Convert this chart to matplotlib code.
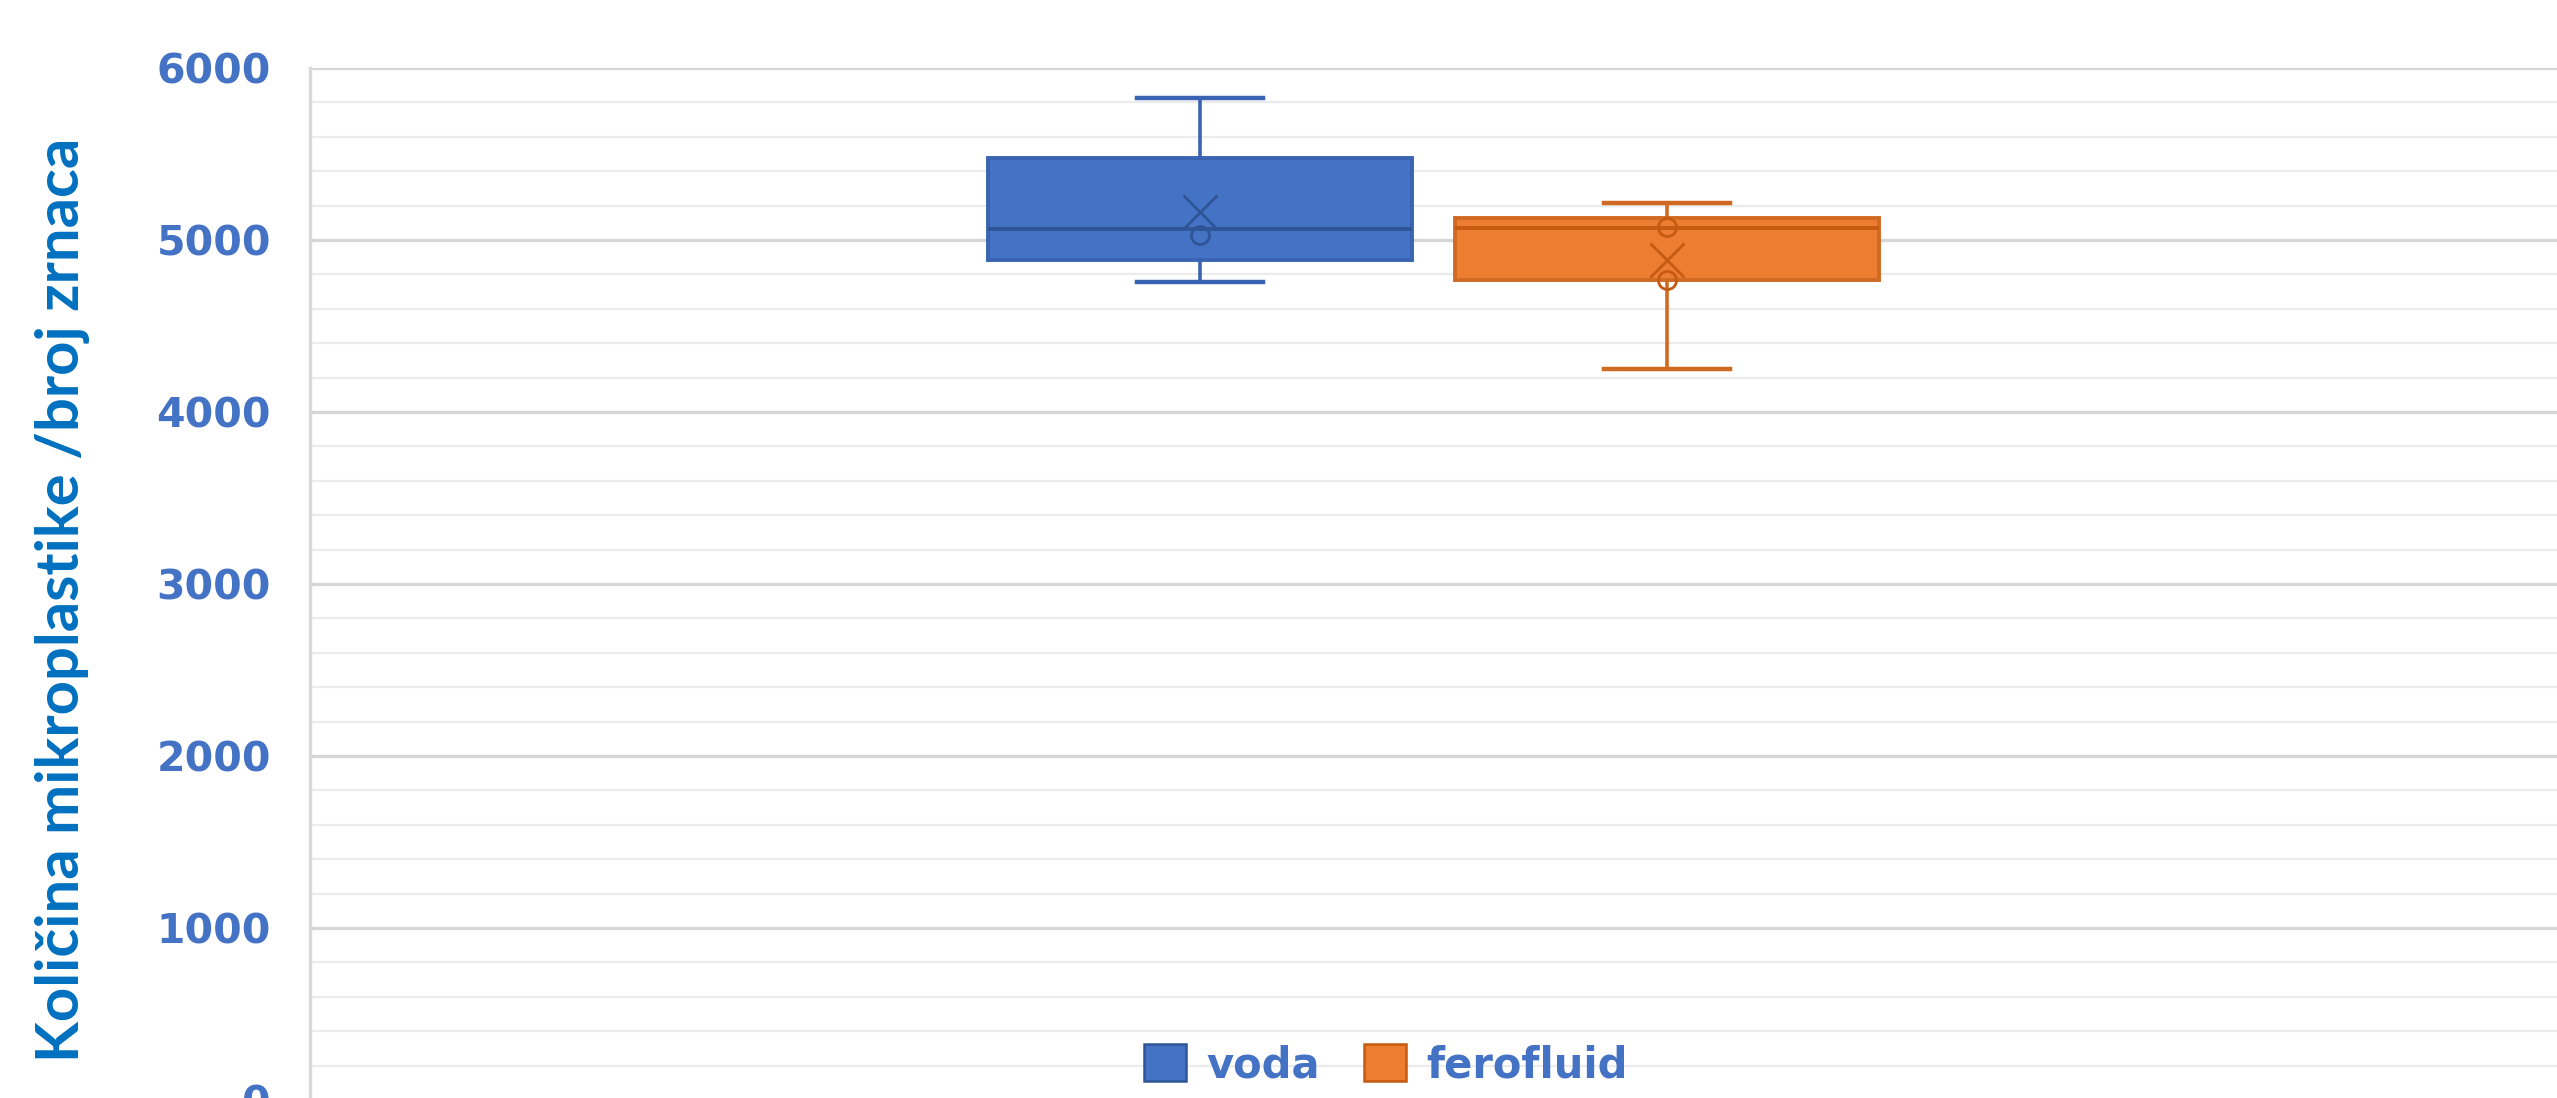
import matplotlib
matplotlib.use("Agg")
import matplotlib.pyplot as plt
from matplotlib.patches import Patch
from matplotlib.ticker import MultipleLocator

# box-and-whisker statistics per group
groups = ["voda", "ferofluid"]
whislo = [4755, 4250]
q1 = [4885, 4770]
med = [5065, 5070]
q3 = [5475, 5130]
whishi = [5825, 5215]
means = [5160, 4885]
inner_points = [[5030], [5075, 4770]]

fills = ["#4472C4", "#ED7D31"]
edges = ["#3A64B2", "#D06A22"]
darks = ["#2F5597", "#C55A11"]
tick_blue = "#4472C4"

fig = plt.figure(figsize=(25.57, 10.98), dpi=100)
ax = fig.add_axes([310 / 2557, -2 / 1098, 1 - 310 / 2557, 1032 / 1098])

positions = [1 - 0.104, 1 + 0.104]
for i, g in enumerate(groups):
    stats = [{
        "label": g, "whislo": whislo[i], "q1": q1[i], "med": med[i],
        "q3": q3[i], "whishi": whishi[i], "mean": means[i], "fliers": [],
    }]
    ax.bxp(stats, positions=[positions[i]], widths=0.1887, capwidths=0.056,
           patch_artist=True, showmeans=False, manage_ticks=False,
           boxprops=dict(facecolor=fills[i], edgecolor=edges[i], linewidth=2.8),
           medianprops=dict(color=darks[i], linewidth=2.8),
           whiskerprops=dict(color=edges[i], linewidth=2.6),
           capprops=dict(color=edges[i], linewidth=3.2), zorder=3)
    ax.plot(positions[i], means[i], marker="x", markersize=24,
            markeredgewidth=2.0, color=darks[i], zorder=4)
    ax.plot([positions[i]] * len(inner_points[i]), inner_points[i],
            linestyle="none", marker="o", markersize=13,
            markerfacecolor="none", markeredgewidth=2.0,
            markeredgecolor=darks[i], zorder=4)

ax.set_xlim(0.5, 1.5)
ax.set_ylim(0, 6000)
ax.yaxis.set_major_locator(MultipleLocator(1000))
ax.yaxis.set_minor_locator(MultipleLocator(200))
ax.set_xticks([])
ax.grid(axis="y", which="major", color="#D6D6D6", linewidth=2.4, zorder=0)
ax.grid(axis="y", which="minor", color="#ECECEC", linewidth=1.6, zorder=0)
ax.set_axisbelow(True)
ax.tick_params(axis="y", which="both", length=0, pad=28,
               labelsize=29.5, labelcolor=tick_blue)
for lbl in ax.get_yticklabels():
    lbl.set_fontweight("bold")
for s in ["top", "right", "bottom"]:
    ax.spines[s].set_visible(False)
ax.spines["left"].set_color("#D9D9D9")
ax.spines["left"].set_linewidth(2.4)

fig.text(63 / 2557, 1 - 600 / 1098, "Količina mikroplastike /broj zrnaca",
         rotation=90, ha="center", va="center", fontsize=43,
         fontfamily="Lato", fontweight="bold", color="#0070C0")

handles = [Patch(facecolor=fills[i], edgecolor=darks[i], linewidth=1.8)
           for i in range(len(groups))]
fig.legend(handles, groups, loc="center", bbox_to_anchor=(1386 / 2557, 33 / 1098),
           ncol=2, frameon=False, handlelength=1.0, handleheight=1.0,
           handletextpad=0.5, columnspacing=1.05,
           prop=dict(size=30, weight="bold"), labelcolor=tick_blue)

fig.savefig("out.png", dpi=100)
